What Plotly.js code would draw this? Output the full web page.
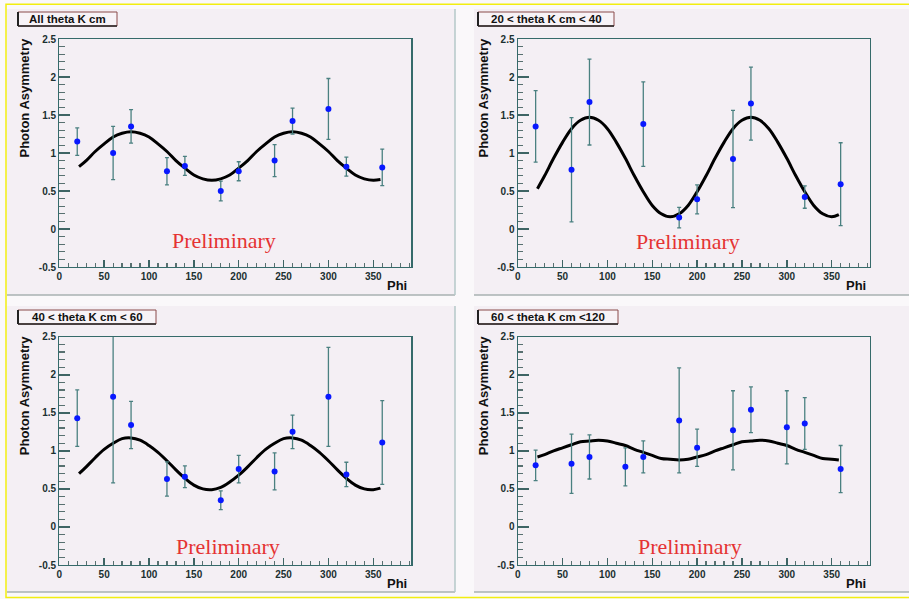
<!DOCTYPE html>
<html>
<head>
<meta charset="utf-8">
<script src="https://cdn.plot.ly/plotly-3.0.1.min.js"></script>
<style>html,body{margin:0;padding:0;background:#faf8fa;}#chart{width:909px;height:599px;}</style>
</head>
<body>
<div id="chart"></div>
<script>
// ---------- data ----------
const panelTitles = ["All theta K cm", "20 < theta K cm < 40", "40 < theta K cm < 60", "60 < theta K cm <120"];
const yTitle = "Photon Asymmetry";
const xTitle = "Phi";
const watermark = "Preliminary";

const xTickVals = [0, 50, 100, 150, 200, 250, 300, 350];
const xTickText = ["0", "50", "100", "150", "200", "250", "300", "350"];
const yTickVals = [-0.5, 0, 0.5, 1, 1.5, 2, 2.5];
const yTickText = ["-0.5", "0", "0.5", "1", "1.5", "2", "2.5"];

// panel 1: All theta
const phi1 = [20, 60, 80, 120, 140, 180, 200, 240, 260, 300, 320, 360];
const asym1 = [1.15, 1.00, 1.35, 0.76, 0.83, 0.50, 0.76, 0.90, 1.42, 1.58, 0.82, 0.81];
const err1 = [0.18, 0.35, 0.22, 0.18, 0.125, 0.13, 0.125, 0.21, 0.17, 0.40, 0.125, 0.24];

// panel 2: 20 < theta < 40
const phi2 = [20, 60, 80, 140, 180, 200, 240, 260, 320, 360];
const asym2 = [1.35, 0.78, 1.67, 1.38, 0.15, 0.39, 0.92, 1.65, 0.42, 0.59];
const err2 = [0.47, 0.685, 0.565, 0.555, 0.135, 0.19, 0.64, 0.48, 0.147, 0.545];

// panel 3: 40 < theta < 60
const phi3 = [20, 60, 80, 120, 140, 180, 200, 240, 260, 300, 320, 360];
const asym3 = [1.43, 1.71, 1.34, 0.63, 0.66, 0.35, 0.76, 0.73, 1.25, 1.71, 0.69, 1.11];
const err3 = [0.37, 1.13, 0.31, 0.225, 0.143, 0.123, 0.18, 0.243, 0.22, 0.65, 0.16, 0.55];

// panel 4: 60 < theta < 120
const phi4 = [20, 60, 80, 120, 140, 180, 200, 240, 260, 300, 320, 360];
const asym4 = [0.81, 0.83, 0.92, 0.79, 0.92, 1.40, 1.04, 1.27, 1.54, 1.31, 1.36, 0.76];
const err4 = [0.20, 0.39, 0.29, 0.25, 0.21, 0.69, 0.245, 0.52, 0.30, 0.48, 0.34, 0.31];

// fit curves
const fitPhi = [22, 30, 40, 50, 60, 70, 80, 90, 100, 110, 120, 130, 140, 150, 160, 170, 180,
                190, 200, 210, 220, 230, 240, 250, 260, 270, 280, 290, 300, 310, 320, 330, 340, 350, 358];
const fit1 = [0.82, 0.90, 1.02, 1.12, 1.21, 1.26, 1.28, 1.26, 1.21, 1.12, 1.02, 0.90, 0.80, 0.71, 0.66, 0.64, 0.66,
              0.71, 0.80, 0.90, 1.02, 1.12, 1.21, 1.26, 1.28, 1.26, 1.21, 1.12, 1.02, 0.90, 0.80, 0.71, 0.66, 0.64, 0.65];
const fit2 = [0.53, 0.70, 0.93, 1.14, 1.32, 1.43, 1.47, 1.43, 1.32, 1.14, 0.93, 0.70, 0.49, 0.31, 0.20, 0.16, 0.20,
              0.31, 0.49, 0.70, 0.93, 1.14, 1.32, 1.43, 1.47, 1.43, 1.32, 1.14, 0.93, 0.70, 0.49, 0.31, 0.20, 0.16, 0.19];
const fit3 = [0.70, 0.79, 0.91, 1.02, 1.10, 1.16, 1.17, 1.14, 1.07, 0.98, 0.87, 0.75, 0.64, 0.55, 0.50, 0.49, 0.52,
              0.59, 0.68, 0.79, 0.91, 1.02, 1.10, 1.16, 1.17, 1.14, 1.07, 0.98, 0.87, 0.75, 0.64, 0.55, 0.50, 0.49, 0.51];
const fit4 = [0.92, 0.95, 1.00, 1.04, 1.08, 1.12, 1.13, 1.14, 1.13, 1.10, 1.07, 1.02, 0.98, 0.94, 0.90, 0.89, 0.88,
              0.89, 0.92, 0.95, 1.00, 1.04, 1.08, 1.12, 1.13, 1.14, 1.13, 1.10, 1.07, 1.02, 0.98, 0.94, 0.90, 0.89, 0.88];

// ---------- layout helpers (pixel geometry) ----------
const W = 909, H = 599;
const PX = x => x / W;
const PY = y => 1 - y / H;

const sans = "Liberation Sans, Arial, Helvetica, sans-serif";
const serif = "Liberation Serif, Times New Roman, serif";
const panelBg = "#f4eff4";
const frameCol = "#356a6a";
const tickCol = "#3e6464";
const minorCol = "#587070";
const labelCol = "#1b3030";
const errCol = "#4a8080";

// plot-frame pixel boxes [left, right, top, bottom]
const frames = [
  [59.3, 411.4, 39, 267],
  [517.7, 869.8, 39, 267],
  [59.3, 411.4, 336.7, 565],
  [517.7, 869.8, 336.7, 565]
];
// panel pixel boxes
const panels = [
  [7, 455, 9, 295],
  [474, 912, 9, 295],
  [7, 455, 306, 592],
  [474, 912, 306, 592]
];
const titleBoxes = [
  [18, 117, 12, 26],
  [478, 614, 12, 26],
  [18, 156, 310, 324],
  [478, 618, 310, 324]
];

const phis = [phi1, phi2, phi3, phi4];
const asyms = [asym1, asym2, asym3, asym4];
const errs = [err1, err2, err3, err4];
const fits = [fit1, fit2, fit3, fit4];

const data = [];
const layout = {
  width: W, height: H,
  margin: {l: 0, r: 0, t: 0, b: 0},
  paper_bgcolor: "#faf8fa",
  plot_bgcolor: panelBg,
  showlegend: false,
  shapes: [],
  annotations: []
};

for (let i = 0; i < 4; i++) {
  const s = i === 0 ? "" : String(i + 1);
  const xa = "x" + s, ya = "y" + s;
  data.push({
    type: "scatter", mode: "lines", x: fitPhi, y: fits[i],
    xaxis: xa, yaxis: ya,
    line: {color: "#000000", width: 3, shape: "spline", smoothing: 1},
    hoverinfo: "skip"
  });
  data.push({
    type: "scatter", mode: "markers", x: phis[i], y: asyms[i],
    xaxis: xa, yaxis: ya,
    marker: {color: "#0818ff", size: 6},
    error_y: {type: "data", array: errs[i], visible: true, color: errCol, thickness: 1.3, width: 2}
  });

  const f = frames[i];
  layout["xaxis" + s] = {
    domain: [PX(f[0]), PX(f[1])], anchor: ya,
    range: [0, 392.5], tickmode: "array", tickvals: xTickVals, ticktext: xTickText,
    ticks: "inside", ticklen: 7, tickwidth: 1.5, tickcolor: tickCol,
    minor: {tickmode: "linear", tick0: 0, dtick: 10, ticks: "inside", ticklen: 4, tickwidth: 1.2, tickcolor: minorCol, showgrid: false},
    showline: true, mirror: true, linecolor: frameCol, linewidth: 1.2,
    showgrid: false, zeroline: false, fixedrange: true,
    tickfont: {family: sans, size: 10, color: labelCol, weight: "bold"}
  };
  layout["yaxis" + s] = {
    domain: [PY(f[3]), PY(f[2])], anchor: xa,
    range: [-0.5, 2.5], tickmode: "array", tickvals: yTickVals, ticktext: yTickText,
    ticks: "inside", ticklen: 11, tickwidth: 1.5, tickcolor: tickCol,
    minor: {tickmode: "linear", tick0: 0, dtick: 0.1, ticks: "inside", ticklen: 5.5, tickwidth: 1.2, tickcolor: minorCol, showgrid: false},
    showline: true, mirror: true, linecolor: frameCol, linewidth: 1.2,
    showgrid: false, zeroline: false, fixedrange: true,
    tickfont: {family: sans, size: 10, color: labelCol, weight: "bold"}
  };

  // panel background + shadow
  const p = panels[i];
  layout.shapes.push({type: "rect", xref: "paper", yref: "paper", layer: "below",
    x0: PX(p[0]), x1: PX(p[1]), y0: PY(p[3]), y1: PY(p[2]),
    fillcolor: panelBg, line: {width: 0}});
  layout.shapes.push({type: "line", xref: "paper", yref: "paper", layer: "below",
    x0: PX(p[0]), x1: PX(p[1]), y0: PY(p[3]), y1: PY(p[3]),
    line: {color: "#a8b2b2", width: 1.5}});
  layout.shapes.push({type: "line", xref: "paper", yref: "paper", layer: "below",
    x0: PX(p[1]), x1: PX(p[1]), y0: PY(p[3]), y1: PY(p[2]),
    line: {color: "#b4c8c8", width: 1.5}});

  // title box
  const b = titleBoxes[i];
  layout.shapes.push({type: "rect", xref: "paper", yref: "paper",
    x0: PX(b[0]), x1: PX(b[1]), y0: PY(b[3]), y1: PY(b[2]),
    fillcolor: "#f7f3f7", line: {color: "#8a4a4a", width: 1}});
  layout.shapes.push({type: "line", xref: "paper", yref: "paper",
    x0: PX(b[0]), x1: PX(b[0]), y0: PY(b[3]), y1: PY(b[2]),
    line: {color: "#222222", width: 2}});
  layout.shapes.push({type: "line", xref: "paper", yref: "paper",
    x0: PX(b[0]), x1: PX(b[1]), y0: PY(b[3]), y1: PY(b[3]),
    line: {color: "#222222", width: 1.5}});
  layout.annotations.push({xref: "paper", yref: "paper", showarrow: false,
    x: PX((b[0] + b[1]) / 2), y: PY((b[2] + b[3]) / 2), xanchor: "center", yanchor: "middle",
    text: panelTitles[i], font: {family: sans, size: 11.5, color: "#111111", weight: "bold"}});

  // y-axis title (aligned to top of axis, ROOT style)
  const yx = i % 2 === 0 ? 24 : 483;
  layout.annotations.push({xref: "paper", yref: "paper", showarrow: false,
    x: PX(yx), y: PY(f[2] - 2), xanchor: "center", yanchor: "top", textangle: -90,
    text: yTitle, font: {family: sans, size: 13, color: "#111111", weight: "bold"}});
  // x-axis title
  layout.annotations.push({xref: "paper", yref: "paper", showarrow: false,
    x: PX(f[1] - 2), y: PY(f[3] + 18), xanchor: "right", yanchor: "middle",
    text: xTitle, font: {family: sans, size: 13, color: "#111111", weight: "bold"}});
  // watermark
  const wx = [224, 688, 228, 690][i];
  const wy = [241, 242, 546, 546][i];
  layout.annotations.push({xref: "paper", yref: "paper", showarrow: false,
    x: PX(wx), y: PY(wy), xanchor: "center", yanchor: "middle",
    text: watermark, font: {family: serif, size: 22, color: "#e53333"}});
}

// outer yellow border
layout.shapes.push({type: "rect", xref: "paper", yref: "paper", layer: "below",
  x0: PX(6), x1: PX(915), y0: PY(597.5), y1: PY(4.3),
  fillcolor: "rgba(0,0,0,0)", line: {color: "#f2ee10", width: 1.5}});

Plotly.newPlot("chart", data, layout, {displayModeBar: false, staticPlot: true});
</script>
</body>
</html>
